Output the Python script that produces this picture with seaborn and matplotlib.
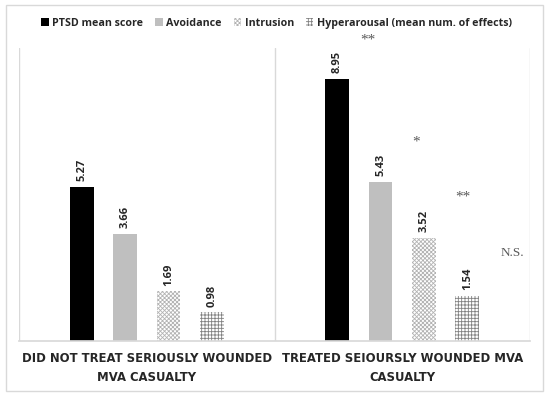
import pandas as pd
import seaborn as sns
import matplotlib.pyplot as plt
from matplotlib.patches import Patch, Rectangle

# data
groups = ["DID NOT TREAT SERIOUSLY WOUNDED\nMVA CASUALTY",
          "TREATED SEIOURSLY WOUNDED MVA\nCASUALTY"]
measures = ["PTSD mean score", "Avoidance", "Intrusion",
            "Hyperarousal (mean num. of effects)"]
ptsd = [5.27, 8.95]
avoidance = [3.66, 5.43]
intrusion = [1.69, 3.52]
hyperarousal = [0.98, 1.54]
sig_labels = ["**", "*", "**", "N.S."]

rows = []
for m, vals in zip(measures, [ptsd, avoidance, intrusion, hyperarousal]):
    for g, v in zip(groups, vals):
        rows.append({"group": g, "measure": m, "value": v})
df = pd.DataFrame(rows)

sns.set_theme(style="white")
plt.rcParams["hatch.linewidth"] = 0.6

fig = plt.figure(figsize=(5.5, 3.97), dpi=100)
ax = fig.add_axes([19 / 550, 56 / 397, 511 / 550, 293 / 397])

face = ["black", "#bfbfbf", "white", "white"]
sns.barplot(data=df, x="group", y="value", hue="measure", order=groups,
            hue_order=measures, palette=face, width=0.68, gap=0.45,
            legend=False, ax=ax, linewidth=0)

hatches = [None, None, "xxxxxxxx", "+++++"]
hcolors = ["black", "#bfbfbf", "#b3b3b3", "#808080"]
for cont, h, hc in zip(ax.containers, hatches, hcolors):
    for bar in cont:
        if h:
            bar.set_hatch(h)
            bar.set_edgecolor(hc)
            bar.set_linewidth(0)
    ax.bar_label(cont, fmt="%.2f", rotation=90, padding=4,
                 fontsize=8, fontweight="bold", family="Open Sans")

ax.set_ylim(0, 10)
ax.set_xlim(-0.5, 1.5)
ax.set_yticks([])
ax.set_xlabel("")
ax.set_ylabel("")
for s in ["top", "left", "right"]:
    ax.spines[s].set_visible(False)
ax.spines["bottom"].set_color("#d9d9d9")
for xv in [-0.5, 0.5, 1.5]:
    ax.axvline(xv, color="#d9d9d9", lw=1, zorder=0)
ax.tick_params(axis="x", length=0, pad=8)
for lab in ax.get_xticklabels():
    lab.set_fontweight("bold")
    lab.set_fontsize(8.4)
    lab.set_family("DejaVu Sans")
    lab.set_linespacing(1.55)

# significance markers, next to the second group's bars
sig_x = [0.866, 1.054, 1.238, 1.430]
sig_y = [10.27, 6.79, 4.91, 3.0]
for t, xx, yy in zip(sig_labels, sig_x, sig_y):
    ax.text(xx, yy, t, ha="center", va="center", color="#595959",
            family="Liberation Serif", fontsize=9.5 if t == "N.S." else 11,
            clip_on=False)

handles = [Patch(facecolor=f, edgecolor=hc, hatch=h, linewidth=0)
           for f, h, hc in zip(face, hatches, hcolors)]
fig.legend(handles, measures, loc="center", bbox_to_anchor=(0.503, 0.942),
           ncol=4, frameon=False, handlelength=0.7, handleheight=0.7,
           handletextpad=0.35, columnspacing=1.1,
           prop={"family": "Open Sans", "weight": "bold", "size": 7.7})

fig.patches.append(Rectangle((6 / 550, 6 / 397), 537 / 550, 386 / 397,
                             transform=fig.transFigure, fill=False,
                             edgecolor="#d9d9d9", lw=1))

fig.savefig("out.png", dpi=100)
